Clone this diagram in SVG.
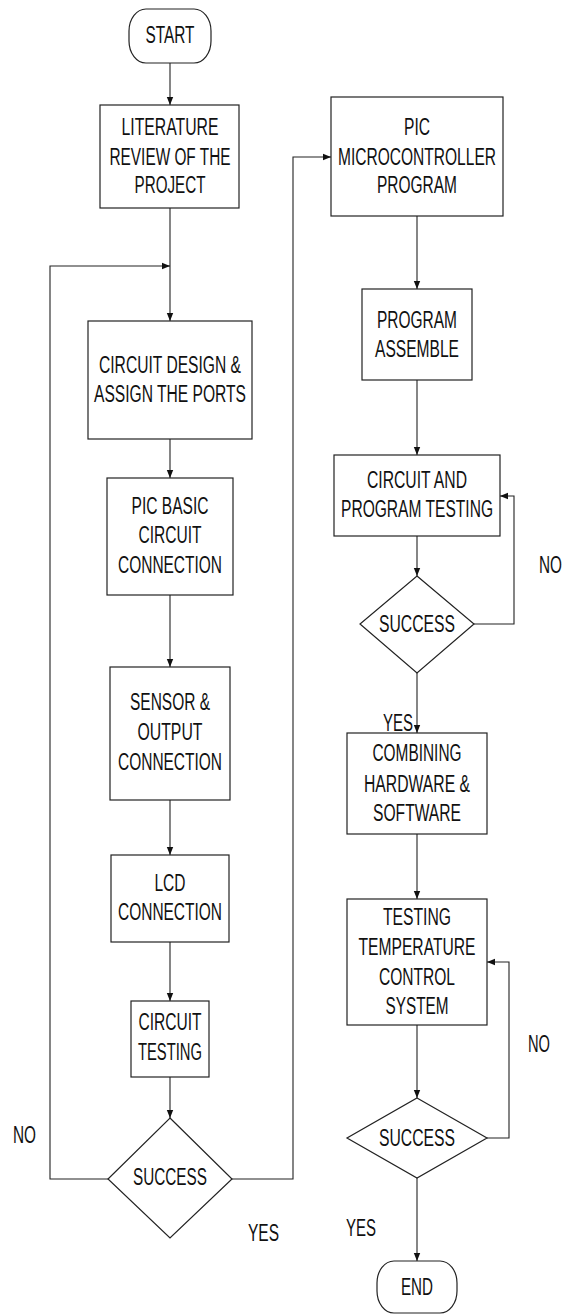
<svg xmlns="http://www.w3.org/2000/svg" width="568" height="1314" viewBox="0 0 568 1314">
<style>
.s{fill:#fff;stroke:#222;stroke-width:1.2}
.t{font-family:"Liberation Sans",Arial,sans-serif;font-size:23px;fill:#111;text-anchor:middle}
.l{font-family:"Liberation Sans",Arial,sans-serif;font-size:23px;fill:#111}
.c{fill:none;stroke:#222;stroke-width:1.1}
</style>
<defs>
<marker id="ah" markerWidth="8" markerHeight="8" refX="8" refY="4" orient="auto" markerUnits="userSpaceOnUse">
<path d="M0,0.8 L8,4 L0,7.2 Z" fill="#111"/>
</marker>
</defs>
<rect width="568" height="1314" fill="#fff"/>
<g id="connectors">
<path class="c" d="M170,63 V105" marker-end="url(#ah)"/>
<path class="c" d="M170,208 V321" marker-end="url(#ah)"/>
<path class="c" d="M108,1179 H50 V266 H170" marker-end="url(#ah)"/>
<path class="c" d="M170,439 V478" marker-end="url(#ah)"/>
<path class="c" d="M170,595 V667" marker-end="url(#ah)"/>
<path class="c" d="M170,800 V855" marker-end="url(#ah)"/>
<path class="c" d="M170,942 V1001" marker-end="url(#ah)"/>
<path class="c" d="M170,1077 V1118" marker-end="url(#ah)"/>
<path class="c" d="M232,1179 H293 V157 H331" marker-end="url(#ah)"/>
<path class="c" d="M417,216 V289" marker-end="url(#ah)"/>
<path class="c" d="M417,380 V455" marker-end="url(#ah)"/>
<path class="c" d="M417,536 V576" marker-end="url(#ah)"/>
<path class="c" d="M474,624 H514 V496 H500" marker-end="url(#ah)"/>
<path class="c" d="M417,673 V733" marker-end="url(#ah)"/>
<path class="c" d="M417,834 V899" marker-end="url(#ah)"/>
<path class="c" d="M417,1025 V1098" marker-end="url(#ah)"/>
<path class="c" d="M487,1138 H509 V962 H487" marker-end="url(#ah)"/>
<path class="c" d="M417,1178 V1261" marker-end="url(#ah)"/>
</g>
<g id="labels">
<text class="l" x="13" y="1143" textLength="23" lengthAdjust="spacingAndGlyphs">NO</text>
<text class="l" x="248" y="1241" textLength="31" lengthAdjust="spacingAndGlyphs">YES</text>
<text class="l" transform="translate(539,573) scale(0.667,1)" x="0" y="0" textLength="34.5" lengthAdjust="spacingAndGlyphs">NO</text>
<text class="l" x="383" y="731" textLength="30" lengthAdjust="spacingAndGlyphs">YES</text>
<text class="l" x="528" y="1052" textLength="22" lengthAdjust="spacingAndGlyphs">NO</text>
<text class="l" x="346" y="1236" textLength="30" lengthAdjust="spacingAndGlyphs">YES</text>
</g>
<g id="start">
<rect class="s" x="129" y="9" width="82" height="54" rx="17" ry="22"/>
<text class="t" x="170" y="43" textLength="49" lengthAdjust="spacingAndGlyphs">START</text>
</g>
<g id="literature">
<rect class="s" x="100" y="105" width="139" height="103"/>
<text class="t" x="170" y="135" textLength="97" lengthAdjust="spacingAndGlyphs">LITERATURE</text>
<text class="t" x="170" y="165" textLength="121" lengthAdjust="spacingAndGlyphs">REVIEW OF THE</text>
<text class="t" x="170" y="193" textLength="71" lengthAdjust="spacingAndGlyphs">PROJECT</text>
</g>
<g id="circuit-design">
<rect class="s" x="88" y="321" width="164" height="118"/>
<text class="t" x="170" y="373" textLength="142" lengthAdjust="spacingAndGlyphs">CIRCUIT DESIGN &amp;</text>
<text class="t" x="170" y="402" textLength="152" lengthAdjust="spacingAndGlyphs">ASSIGN THE PORTS</text>
</g>
<g id="pic-basic">
<rect class="s" x="107" y="478" width="126" height="117"/>
<text class="t" x="170" y="514" textLength="77" lengthAdjust="spacingAndGlyphs">PIC BASIC</text>
<text class="t" x="170" y="543" textLength="63" lengthAdjust="spacingAndGlyphs">CIRCUIT</text>
<text class="t" x="170" y="573" textLength="104" lengthAdjust="spacingAndGlyphs">CONNECTION</text>
</g>
<g id="sensor">
<rect class="s" x="110" y="667" width="120" height="133"/>
<text class="t" x="170" y="710" textLength="80" lengthAdjust="spacingAndGlyphs">SENSOR &amp;</text>
<text class="t" x="170" y="740" textLength="65" lengthAdjust="spacingAndGlyphs">OUTPUT</text>
<text class="t" x="170" y="770" textLength="104" lengthAdjust="spacingAndGlyphs">CONNECTION</text>
</g>
<g id="lcd">
<rect class="s" x="111" y="855" width="118" height="87"/>
<text class="t" x="170" y="891" textLength="31" lengthAdjust="spacingAndGlyphs">LCD</text>
<text class="t" x="170" y="920" textLength="104" lengthAdjust="spacingAndGlyphs">CONNECTION</text>
</g>
<g id="circuit-testing">
<rect class="s" x="131" y="1001" width="78" height="76"/>
<text class="t" x="170" y="1030" textLength="63" lengthAdjust="spacingAndGlyphs">CIRCUIT</text>
<text class="t" x="170" y="1060" textLength="64" lengthAdjust="spacingAndGlyphs">TESTING</text>
</g>
<g id="success-1">
<polygon class="s" points="170,1118 232,1179 170,1238 108,1179"/>
<text class="t" x="170" y="1185" textLength="74" lengthAdjust="spacingAndGlyphs">SUCCESS</text>
</g>
<g id="pic-program">
<rect class="s" x="331" y="97" width="172" height="119"/>
<text class="t" x="417" y="135" textLength="26" lengthAdjust="spacingAndGlyphs">PIC</text>
<text class="t" transform="translate(417,165) scale(0.675,1)" x="0" y="0" textLength="234" lengthAdjust="spacingAndGlyphs">MICROCONTROLLER</text>
<text class="t" x="417" y="193" textLength="80" lengthAdjust="spacingAndGlyphs">PROGRAM</text>
</g>
<g id="program-assemble">
<rect class="s" x="362" y="289" width="110" height="91"/>
<text class="t" x="417" y="328" textLength="80" lengthAdjust="spacingAndGlyphs">PROGRAM</text>
<text class="t" x="417" y="357" textLength="84" lengthAdjust="spacingAndGlyphs">ASSEMBLE</text>
</g>
<g id="circuit-program-testing">
<rect class="s" x="334" y="455" width="166" height="81"/>
<text class="t" x="417" y="488" textLength="100" lengthAdjust="spacingAndGlyphs">CIRCUIT AND</text>
<text class="t" x="417" y="517" textLength="152" lengthAdjust="spacingAndGlyphs">PROGRAM TESTING</text>
</g>
<g id="success-2">
<polygon class="s" points="417,576 474,624 417,673 360,624"/>
<text class="t" x="417" y="632" textLength="76" lengthAdjust="spacingAndGlyphs">SUCCESS</text>
</g>
<g id="combining">
<rect class="s" x="347" y="733" width="140" height="101"/>
<text class="t" x="417" y="761" textLength="89" lengthAdjust="spacingAndGlyphs">COMBINING</text>
<text class="t" x="417" y="792" textLength="106" lengthAdjust="spacingAndGlyphs">HARDWARE &amp;</text>
<text class="t" x="417" y="821" textLength="88" lengthAdjust="spacingAndGlyphs">SOFTWARE</text>
</g>
<g id="testing-system">
<rect class="s" x="347" y="899" width="140" height="126"/>
<text class="t" x="417" y="925" textLength="68" lengthAdjust="spacingAndGlyphs">TESTING</text>
<text class="t" x="417" y="955" textLength="117" lengthAdjust="spacingAndGlyphs">TEMPERATURE</text>
<text class="t" x="417" y="985" textLength="76" lengthAdjust="spacingAndGlyphs">CONTROL</text>
<text class="t" x="417" y="1014" textLength="63" lengthAdjust="spacingAndGlyphs">SYSTEM</text>
</g>
<g id="success-3">
<polygon class="s" points="417,1098 487,1138 417,1178 347,1138"/>
<text class="t" x="417" y="1146" textLength="76" lengthAdjust="spacingAndGlyphs">SUCCESS</text>
</g>
<g id="end">
<rect class="s" x="377" y="1261" width="80" height="52" rx="17" ry="22"/>
<text class="t" x="417" y="1295" textLength="32" lengthAdjust="spacingAndGlyphs">END</text>
</g>
</svg>
